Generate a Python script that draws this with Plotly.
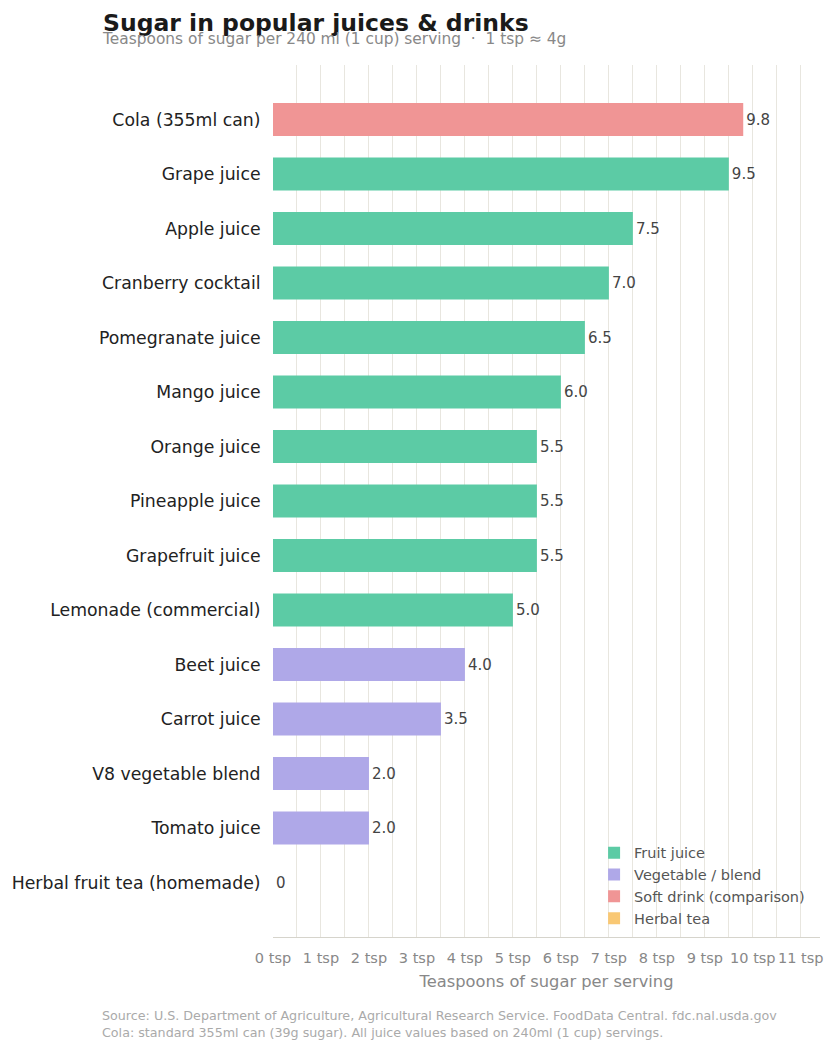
import plotly.graph_objects as go

drinks = ["Cola (355ml can)", "Grape juice", "Apple juice", "Cranberry cocktail",
          "Pomegranate juice", "Mango juice", "Orange juice", "Pineapple juice",
          "Grapefruit juice", "Lemonade (commercial)", "Beet juice", "Carrot juice",
          "V8 vegetable blend", "Tomato juice", "Herbal fruit tea (homemade)"]
tsp = [9.8, 9.5, 7.5, 7.0, 6.5, 6.0, 5.5, 5.5, 5.5, 5.0, 4.0, 3.5, 2.0, 2.0, 0.0]
group = ["Soft drink (comparison)", "Fruit juice", "Fruit juice", "Fruit juice",
         "Fruit juice", "Fruit juice", "Fruit juice", "Fruit juice", "Fruit juice",
         "Fruit juice", "Vegetable / blend", "Vegetable / blend", "Vegetable / blend",
         "Vegetable / blend", "Herbal tea"]
groups = ["Fruit juice", "Vegetable / blend", "Soft drink (comparison)", "Herbal tea"]
colors = {"Fruit juice": "#5ccba5", "Vegetable / blend": "#afa8e8",
          "Soft drink (comparison)": "#f09595", "Herbal tea": "#f9c874"}

fig = go.Figure()
for g in groups:
    ys = [d for d, gg in zip(drinks, group) if gg == g]
    xs = [v for v, gg in zip(tsp, group) if gg == g]
    txt = ["0" if v == 0 else f"{v:.1f}" for v in xs]
    fig.add_trace(go.Bar(
        x=xs, y=ys, orientation="h", name=g,
        marker=dict(color=colors[g], line=dict(width=0)),
        text=txt, textposition="outside", cliponaxis=False,
        textfont=dict(size=15, color="#444444", family="DejaVu Sans"),
        hoverinfo="x+y",
    ))

fig.update_layout(
    width=835, height=1052,
    margin=dict(l=273, r=15, t=65, b=115),
    paper_bgcolor="white", plot_bgcolor="white",
    barmode="overlay", bargap=0.39,
    font=dict(family="DejaVu Sans", color="#222222"),
    title=dict(text="<b>Sugar in popular juices & drinks</b>",
               x=103/835, xref="container", xanchor="left",
               y=1-23/1052, yref="container", yanchor="middle",
               font=dict(size=23.5, color="#1a1a1a")),
    showlegend=True,
    legend=dict(x=0.587, xanchor="left", y=0.115, yanchor="top",
                font=dict(size=14.5, color="#555555"),
                bgcolor="rgba(255,255,255,0)", traceorder="normal",
                tracegroupgap=0),
    xaxis=dict(range=[0, 11.4], dtick=1, tick0=0, ticksuffix=" tsp",
               showgrid=True, gridcolor="#e8e6df", gridwidth=1,
               minor=dict(dtick=0.5, showgrid=True, gridcolor="#e8e6df"),
               zeroline=False, showline=True, linecolor="#d6d4cc", linewidth=1,
               ticks="outside", ticklen=8, tickcolor="rgba(0,0,0,0)",
               tickfont=dict(size=14.5, color="#888888"),
               title=dict(text="Teaspoons of sugar per serving",
                          font=dict(size=16.3, color="#888888"), standoff=10)),
    yaxis=dict(categoryorder="array", categoryarray=drinks, range=[15, -1],
               showgrid=False, zeroline=False, showline=False,
               tickfont=dict(size=17.3, color="#222222"),
               ticks="outside", ticklen=8, tickcolor="rgba(0,0,0,0)"),
)

fig.add_annotation(text="Teaspoons of sugar per 240 ml (1 cup) serving  ·  1 tsp ≈ 4g",
                   xref="paper", yref="paper", x=(100-273)/547, y=1+(65-39)/872,
                   xanchor="left", yanchor="middle", showarrow=False,
                   font=dict(size=15.4, color="#888888"))
fig.add_annotation(text="Source: U.S. Department of Agriculture, Agricultural Research Service. FoodData Central. fdc.nal.usda.gov<br>Cola: standard 355ml can (39g sugar). All juice values based on 240ml (1 cup) servings.",
                   xref="paper", yref="paper", x=(100-273)/547, y=-(1006-937)/872,
                   xanchor="left", yanchor="top", align="left", showarrow=False,
                   font=dict(size=12.7, color="#aaaaaa"))

fig.write_html("out.html")
